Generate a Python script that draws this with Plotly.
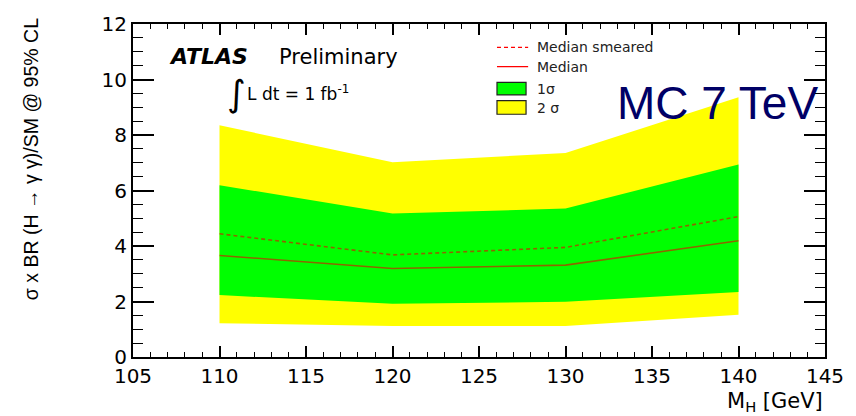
import plotly.graph_objects as go

# Higgs mass points and expected limit bands
mass = [110, 120, 130, 140]
two_sigma_lo = [1.22, 1.12, 1.12, 1.52]
two_sigma_hi = [8.35, 7.02, 7.35, 9.36]
one_sigma_lo = [2.23, 1.92, 1.99, 2.34]
one_sigma_hi = [6.19, 5.17, 5.35, 6.94]
median = [3.66, 3.19, 3.31, 4.19]
median_smeared = [4.44, 3.68, 3.95, 5.06]

x_ticks = [105, 110, 115, 120, 125, 130, 135, 140, 145]
y_ticks = [0, 2, 4, 6, 8, 10, 12]

YELLOW = "#ffff00"
GREEN = "#00ff00"
LINE_RED = "rgba(235,0,0,0.6)"
FONT = "Liberation Sans, Arial, sans-serif"
WIDE = "DejaVu Sans, sans-serif"


def band(lo, hi):
    xs = list(mass) + list(reversed(mass))
    ys = list(hi) + list(reversed(lo))
    return xs, ys


fig = go.Figure()

bx, by = band(two_sigma_lo, two_sigma_hi)
fig.add_trace(go.Scatter(x=bx, y=by, fill="toself", fillcolor=YELLOW,
                         line=dict(width=0), mode="lines", hoverinfo="skip",
                         showlegend=False))
bx, by = band(one_sigma_lo, one_sigma_hi)
fig.add_trace(go.Scatter(x=bx, y=by, fill="toself", fillcolor=GREEN,
                         line=dict(width=0), mode="lines", hoverinfo="skip",
                         showlegend=False))
fig.add_trace(go.Scatter(x=mass, y=median_smeared, mode="lines",
                         line=dict(color=LINE_RED, width=1.6, dash="4px,3px"),
                         showlegend=False))
fig.add_trace(go.Scatter(x=mass, y=median, mode="lines",
                         line=dict(color=LINE_RED, width=1.6),
                         showlegend=False))
# empty trace that anchors the top/right frame axes
fig.add_trace(go.Scatter(x=[], y=[], xaxis="x2", yaxis="y2", showlegend=False))

x_range = [x_ticks[0], x_ticks[-1]]
y_range = [y_ticks[0], y_ticks[-1]]

frame = dict(showgrid=False, zeroline=False, showline=True, linecolor="black",
             linewidth=2, ticks="inside", tickcolor="black", tickwidth=1.5)

x_common = dict(range=x_range, tickmode="array", tickvals=x_ticks, ticklen=11,
                minor=dict(dtick=1, ticklen=5, ticks="inside",
                           tickcolor="black", tickwidth=1.2),
                **frame)
y_common = dict(range=y_range, tickmode="array", tickvals=y_ticks, ticklen=21,
                minor=dict(dtick=0.5, ticklen=10, ticks="inside",
                           tickcolor="black", tickwidth=1.2),
                **frame)

tickfont = dict(family=WIDE, size=20, color="black")

shapes = [
    # legend samples
    dict(type="line", xref="paper", yref="paper", x0=0.526, x1=0.571,
         y0=0.930, y1=0.930, line=dict(color="red", width=1.2, dash="4px,3px")),
    dict(type="line", xref="paper", yref="paper", x0=0.526, x1=0.571,
         y0=0.872, y1=0.872, line=dict(color="red", width=1.2)),
    dict(type="rect", xref="paper", yref="paper", x0=0.526, x1=0.568,
         y0=0.787, y1=0.825, fillcolor=GREEN, line=dict(color="#222", width=1.2)),
    dict(type="rect", xref="paper", yref="paper", x0=0.526, x1=0.568,
         y0=0.729, y1=0.770, fillcolor=YELLOW, line=dict(color="#222", width=1.2)),
]

ann = [
    dict(text="Median smeared", x=0.581, y=0.930),
    dict(text="Median", x=0.581, y=0.872),
    dict(text="1σ", x=0.581, y=0.806),
    dict(text="2 σ", x=0.581, y=0.749),
]
annotations = [dict(xref="paper", yref="paper", xanchor="left", yanchor="middle",
                    showarrow=False, font=dict(family=WIDE, size=14, color="#222"),
                    **a) for a in ann]

annotations += [
    dict(text="<b><i>ATLAS</i></b>", x=0.049, y=0.901, xref="paper", yref="paper",
         xanchor="left", yanchor="middle", showarrow=False,
         font=dict(family=WIDE, size=22, color="black")),
    dict(text="Preliminary", x=0.208, y=0.901, xref="paper", yref="paper",
         xanchor="left", yanchor="middle", showarrow=False,
         font=dict(family=WIDE, size=21, color="black")),
    dict(text="∫", x=0.133, y=0.790, xref="paper", yref="paper",
         xanchor="left", yanchor="middle", showarrow=False,
         font=dict(family=WIDE, size=36, color="black")),
    dict(text="L dt = 1 fb<sup>-1</sup>", x=0.162, y=0.793, xref="paper", yref="paper",
         xanchor="left", yanchor="middle", showarrow=False,
         font=dict(family=WIDE, size=17, color="black")),
    dict(text="MC 7 TeV", x=0.697, y=0.762, xref="paper", yref="paper",
         xanchor="left", yanchor="middle", showarrow=False,
         font=dict(family=FONT, size=46, color="#000066")),
    dict(text="σ x BR (H → γ γ)/SM @ 95% CL", x=-0.147, y=0.595,
         xref="paper", yref="paper", textangle=-90, xanchor="center",
         yanchor="middle", showarrow=False,
         font=dict(family=FONT, size=19.5, color="black")),
    dict(text="M<sub>H</sub> [GeV]", x=1.0, y=-0.134, xref="paper", yref="paper",
         xanchor="right", yanchor="middle", showarrow=False,
         font=dict(family=WIDE, size=21, color="black")),
]

fig.update_layout(
    width=856, height=416,
    margin=dict(l=133, r=31, t=14, b=59),
    paper_bgcolor="white", plot_bgcolor="white",
    xaxis=dict(tickfont=tickfont, **x_common),
    yaxis=dict(tickfont=tickfont, **y_common),
    xaxis2=dict(overlaying="x", side="top", anchor="y2", showticklabels=False,
                **x_common),
    yaxis2=dict(overlaying="y", side="right", anchor="x2", showticklabels=False,
                **y_common),
    shapes=shapes, annotations=annotations,
    showlegend=False,
)

fig.write_html("out.html")
